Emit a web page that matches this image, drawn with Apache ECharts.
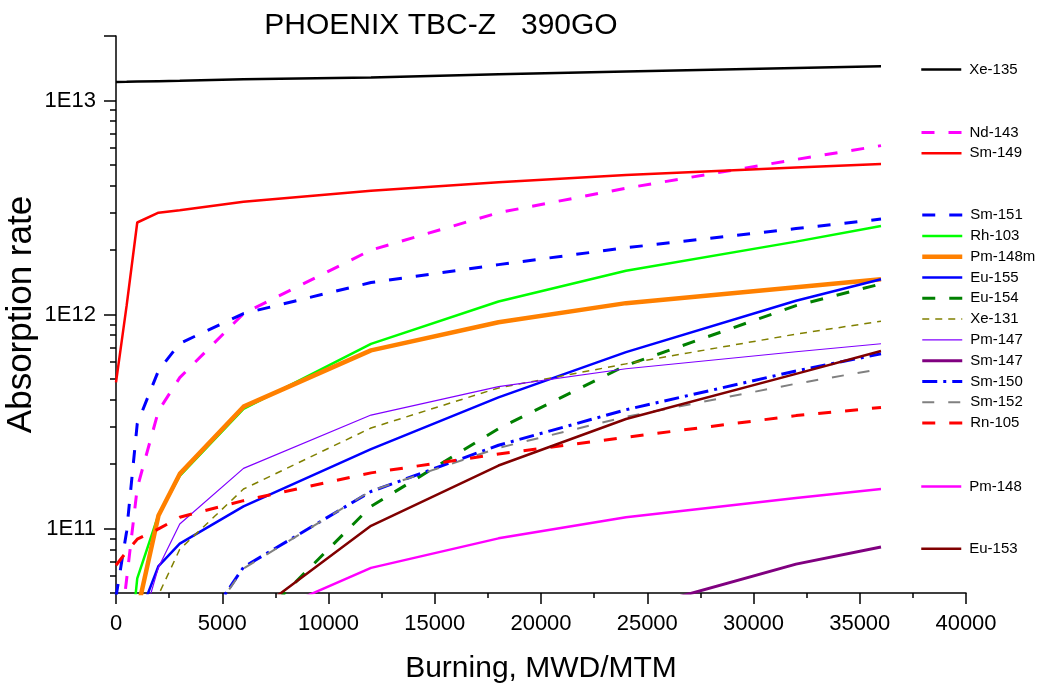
<!DOCTYPE html>
<html>
<head>
<meta charset="utf-8">
<script src="https://cdn.jsdelivr.net/npm/echarts@6/dist/echarts.min.js"></script>
<style>html,body{margin:0;padding:0;background:#fff}#c{width:1039px;height:684px}</style>
</head>
<body>
<div id="c"></div>
<script>
// Burnup points, MWD/MTM
const burnup = [0, 500, 1000, 2000, 3000, 6000, 12000, 18000, 24000, 32000, 36000];

// Absorption rates
const xe135  = [1.22e13, 1.222e13, 1.225e13, 1.23e13, 1.235e13, 1.256e13, 1.279e13, 1.325e13, 1.366e13, 1.416e13, 1.443e13];
const nd143  = [2.2e10, 5.8e10, 1.55e11, 3.55e11, 5.07e11, 1.01e12, 2.0e12, 2.99e12, 3.89e12, 5.3e12, 6.15e12];
const sm149  = [4.82e11, 1.1e12, 2.69e12, 2.99e12, 3.07e12, 3.36e12, 3.79e12, 4.15e12, 4.49e12, 4.86e12, 5.05e12];
const sm151  = [4.8e10, 9.7e10, 3.09e11, 5.47e11, 7.33e11, 1.01e12, 1.41e12, 1.71e12, 2.05e12, 2.52e12, 2.79e12];
const rh103  = [8e9, 1.9e10, 5.85e10, 1.16e11, 1.76e11, 3.62e11, 7.29e11, 1.15e12, 1.6e12, 2.19e12, 2.59e12];
const pm148m = [3e9, 1e10, 4.1e10, 1.15e11, 1.8e11, 3.71e11, 6.8e11, 9.2e11, 1.13e12, 1.34e12, 1.46e12];
const eu155  = [5e9, 1.5e10, 3.7e10, 6.68e10, 8.5e10, 1.27e11, 2.35e11, 4.1e11, 6.67e11, 1.16e12, 1.46e12];
const eu154  = [5e8, 1e9, 2e9, 6e9, 1e10, 3.2e10, 1.27e11, 2.93e11, 5.78e11, 1.1e12, 1.39e12];
const xe131  = [5e9, 1e10, 2e10, 4.9e10, 8.0e10, 1.53e11, 2.95e11, 4.54e11, 5.88e11, 8.1e11, 9.3e11];
const pm147  = [1e10, 1.5e10, 3e10, 6.6e10, 1.05e11, 1.91e11, 3.39e11, 4.6e11, 5.58e11, 6.7e11, 7.3e11];
const sm147  = [1e10, 1e10, 1e10, 1.1e10, 1.2e10, 1.5e10, 2.2e10, 3e10, 4.1e10, 6.82e10, 8.2e10];
const sm150  = [8e9, 1e10, 1.2e10, 1.8e10, 2.4e10, 6.6e10, 1.49e11, 2.45e11, 3.59e11, 5.45e11, 6.55e11];
const sm152  = [8e9, 1e10, 1.2e10, 1.8e10, 2.4e10, 6.5e10, 1.5e11, 2.38e11, 3.33e11, 4.75e11, 5.57e11];
const rn105  = [6.74e10, 7.8e10, 8.92e10, 9.96e10, 1.13e11, 1.35e11, 1.82e11, 2.23e11, 2.67e11, 3.37e11, 3.68e11];
const pm148  = [1e10, 1.5e10, 1.8e10, 2.2e10, 2.5e10, 3.6e10, 6.55e10, 9.0e10, 1.13e11, 1.39e11, 1.53e11];
const eu153  = [5e9, 8e9, 1e10, 1.5e10, 2e10, 3.7e10, 1.03e11, 1.97e11, 3.25e11, 5.28e11, 6.75e11];

// Axis ticks
const yMajorTicks = [1e11, 1e12, 1e13, 2e13];
const yLabelTicks = [1e11, 1e12, 1e13];
const yMinorTicks = [5e10, 6e10, 7e10, 8e10, 9e10,
  2e11, 3e11, 4e11, 5e11, 6e11, 7e11, 8e11, 9e11,
  2e12, 3e12, 4e12, 5e12, 6e12, 7e12, 8e12, 9e12];

const FONT = 'Liberation Sans, Arial, sans-serif';
const DASH = [13, 14];

const widths = {};
function mk(name, vals, color, width, type) {
  widths[name] = width;
  return {
    name: name, type: 'line', symbol: 'none', showSymbol: false, animation: false,
    data: burnup.map((x, i) => [x, vals[i]]),
    lineStyle: { color: color, width: width, type: type || 'solid', cap: 'butt' },
    itemStyle: { color: color },
    emphasis: { disabled: true }
  };
}

const series = [
  mk('Xe-135', xe135, '#000000', 2.5),
  mk('Nd-143', nd143, '#FF00FF', 3, DASH),
  mk('Sm-149', sm149, '#FF0000', 2.5),
  mk('Sm-151', sm151, '#0000FF', 3, DASH),
  mk('Rh-103', rh103, '#00FF00', 2.5),
  mk('Pm-148m', pm148m, '#FF8000', 4.5),
  mk('Eu-155', eu155, '#0000FF', 2.5),
  mk('Eu-154', eu154, '#008000', 3, DASH),
  mk('Xe-131', xe131, '#808000', 1.5, [7, 6]),
  mk('Pm-147', pm147, '#8000FF', 1.2),
  mk('Sm-147', sm147, '#800080', 3),
  mk('Sm-150', sm150, '#0000FF', 3, [15, 6, 3, 6]),
  mk('Sm-152', sm152, '#808080', 2, [12, 14]),
  mk('Rn-105', rn105, '#FF0000', 3, DASH),
  mk('Pm-148', pm148, '#FF00FF', 2.5),
  mk('Eu-153', eu153, '#800000', 2.5)
];

function lg(names, top, gap) {
  return {
    data: names.map(n => ({ name: n, lineStyle: { width: widths[n] } })),
    orient: 'vertical', left: 920, top: top, padding: 0,
    itemWidth: 40, itemHeight: 14, itemGap: gap, selectedMode: false,
    itemStyle: { opacity: 0 },
    textStyle: { fontFamily: FONT, fontSize: 15, color: '#000', lineHeight: 14, padding: [0, 0, 0, 3] }
  };
}

const chart = echarts.init(document.getElementById('c'), null, { renderer: 'canvas' });
chart.setOption({
  backgroundColor: '#fff',
  animation: false,
  title: {
    text: 'PHOENIX TBC-Z   390GO', left: 441, top: 11, textAlign: 'center', padding: 0,
    textStyle: { fontFamily: FONT, fontSize: 30, fontWeight: 'normal', color: '#000' }
  },
  legend: [
    lg(['Xe-135'], 62, 5.8),
    lg(['Nd-143', 'Sm-149'], 125, 5.7),
    lg(['Sm-151', 'Rh-103', 'Pm-148m', 'Eu-155', 'Eu-154', 'Xe-131', 'Pm-147', 'Sm-147', 'Sm-150', 'Sm-152', 'Rn-105'], 207.6, 5.8),
    lg(['Pm-148'], 479, 5.8),
    lg(['Eu-153'], 541.3, 5.8)
  ],
  grid: { left: 116, right: 73, top: 36, bottom: 91, containLabel: false, outerBoundsMode: 'none' },
  xAxis: {
    type: 'value', min: 0, max: 40000, interval: 5000,
    name: 'Burning, MWD/MTM', nameLocation: 'middle', nameGap: 61,
    nameTextStyle: { fontFamily: FONT, fontSize: 30, color: '#000' },
    axisLine: { show: true, onZero: false, lineStyle: { color: '#000', width: 1.5 } },
    axisTick: { show: true, length: 11, inside: false, lineStyle: { color: '#000', width: 1.5 } },
    minorTick: { show: true, splitNumber: 2, length: 5, lineStyle: { color: '#000', width: 1.5 } },
    axisLabel: { fontFamily: FONT, fontSize: 22, color: '#000', margin: 20, formatter: v => String(v) },
    splitLine: { show: false }, minorSplitLine: { show: false }
  },
  yAxis: [
    {
      type: 'log', logBase: 10, min: 5e10, max: 2e13, position: 'left',
      name: 'Absorption rate', nameLocation: 'middle', nameGap: 77, nameMoveOverlap: false,
      nameTextStyle: { fontFamily: FONT, fontSize: 35, color: '#000' },
      axisLine: { show: true, onZero: false, lineStyle: { color: '#000', width: 1.5 } },
      axisTick: { show: true, length: 12, inside: false, customValues: yMajorTicks, lineStyle: { color: '#000', width: 1.5 } },
      axisLabel: {
        customValues: yLabelTicks, fontFamily: FONT, fontSize: 22, color: '#000', margin: 20,
        formatter: v => '1E' + Math.round(Math.log10(v))
      },
      splitLine: { show: false }
    },
    {
      type: 'log', logBase: 10, min: 5e10, max: 2e13, position: 'left',
      axisLine: { show: false, onZero: false },
      axisTick: { show: true, length: 6, inside: false, customValues: yMinorTicks, lineStyle: { color: '#000', width: 1.5 } },
      axisLabel: { show: false },
      splitLine: { show: false }
    }
  ],
  series: series
});
</script>
</body>
</html>
